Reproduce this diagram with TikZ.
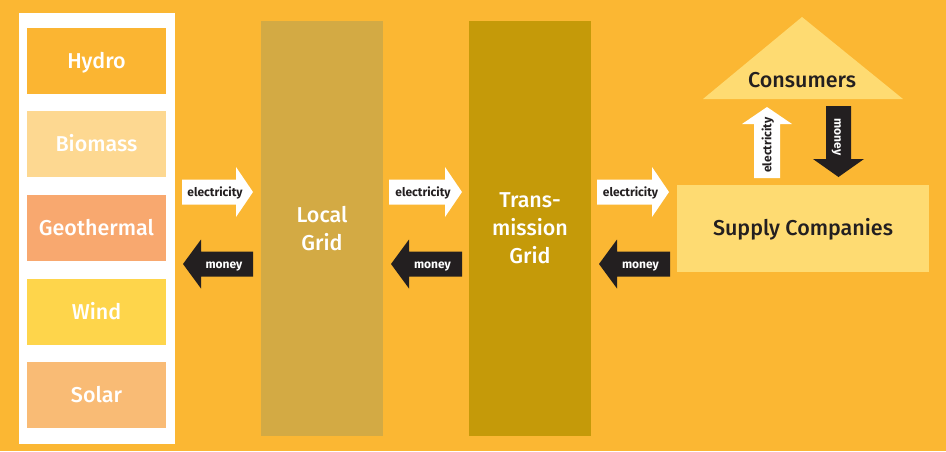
\documentclass[tikz,border=0pt]{standalone}
\usepackage{fontspec}
\setmainfont{Fira Sans}
\newfontfamily\medfont{Fira Sans Medium}
\definecolor{bg}{HTML}{FBB733}
\definecolor{hydro}{HTML}{FBB532}
\definecolor{biomass}{HTML}{FDD891}
\definecolor{geo}{HTML}{F8A86F}
\definecolor{wind}{HTML}{FED54B}
\definecolor{solar}{HTML}{F9BB75}
\definecolor{localg}{HTML}{D3AA44}
\definecolor{transg}{HTML}{C59A09}
\definecolor{supply}{HTML}{FEDB72}
\definecolor{ink}{HTML}{231F20}
\begin{document}
\begin{tikzpicture}[x=1pt,y=-1pt,
  bigtext/.style={font=\medfont\fontsize{21.5}{28}\selectfont},
  capsc/.style={text height=14.8pt,text depth=0pt},
  srcbox/.style={rectangle,minimum width=139pt,minimum height=66pt,inner sep=0pt,text=white,bigtext,capsc},
  gridbox/.style={rectangle,minimum width=122pt,minimum height=415pt,inner sep=0pt,text=white,align=center,bigtext},
  smalltext/.style={font=\bfseries\fontsize{12}{14}\selectfont,inner sep=0pt,text height=8.5pt,text depth=0pt},
  elec/.style={fill=white},
  mon/.style={fill=ink}]
\useasboundingbox (0,0) rectangle (946,451);
\fill[bg] (0,0) rectangle (946,451);
% source panel
\node[rectangle,fill=white,minimum width=156pt,minimum height=431pt,inner sep=0pt] (panel) at (97,228.5) {};
\node[srcbox,fill=hydro] (hydro) at (96.5,61) {Hydro};
\node[srcbox,fill=biomass] (biomass) at (96.5,144) {Biomass};
\node[srcbox,fill=geo] (geo) at (96.5,228) {Geothermal};
\node[srcbox,fill=wind] (wind) at (96.5,312) {Wind};
\node[srcbox,fill=solar] (solar) at (96.5,395) {Solar};
% grids
\node[gridbox,fill=localg] (local) at (322,228.5) {Local\\Grid};
\node[gridbox,fill=transg] (trans) at (530,228.5) {Trans-\\mission\\Grid};
% supply & consumers
\node[rectangle,fill=supply,minimum width=252pt,minimum height=87pt,inner sep=0pt,text=ink,bigtext,capsc] (supply) at (803,228.5) {Supply Companies};
\fill[supply] (703,99) -- (802,17) -- (903,99) -- cycle;
\node[text=ink,bigtext,capsc,inner sep=0pt] (consumers) at (802,80) {Consumers};
% horizontal electricity arrows (right)
\foreach \xa/\xb/\xt/\nm in {182/236/253/e1,389/445/462/e2,597/652/669/e3}{
  \fill[elec] (\xa,179.5) -- (\xb,179.5) -- (\xb,167) -- (\xt,192) -- (\xb,217) -- (\xb,204.5) -- (\xa,204.5) -- cycle;
  \node[smalltext,text=ink] (\nm) at ({(\xa+\xb)/2+6},192) {electricity};
}
% horizontal money arrows (left)
\foreach \xt/\xb/\xa/\nm in {183/201/253/m1,391/409/462/m2,599/617/670/m3}{
  \fill[mon] (\xa,251.5) -- (\xb,251.5) -- (\xb,239.5) -- (\xt,264) -- (\xb,288.5) -- (\xb,276.5) -- (\xa,276.5) -- cycle;
  \node[smalltext,text=white] (\nm) at ({(\xa+\xb)/2-3},264) {money};
}
% vertical arrows
\fill[elec] (754,178) -- (754,124) -- (742,124) -- (767,107) -- (792,124) -- (780,124) -- (780,178) -- cycle;
\node[smalltext,text=ink,rotate=90] (eup) at (767,145) {electricity};
\fill[mon] (826,106) -- (826,159) -- (813,159) -- (838.5,177) -- (864,159) -- (851,159) -- (851,106) -- cycle;
\node[smalltext,text=white,rotate=-90] (mdown) at (838.5,137) {money};
\end{tikzpicture}
\end{document}
